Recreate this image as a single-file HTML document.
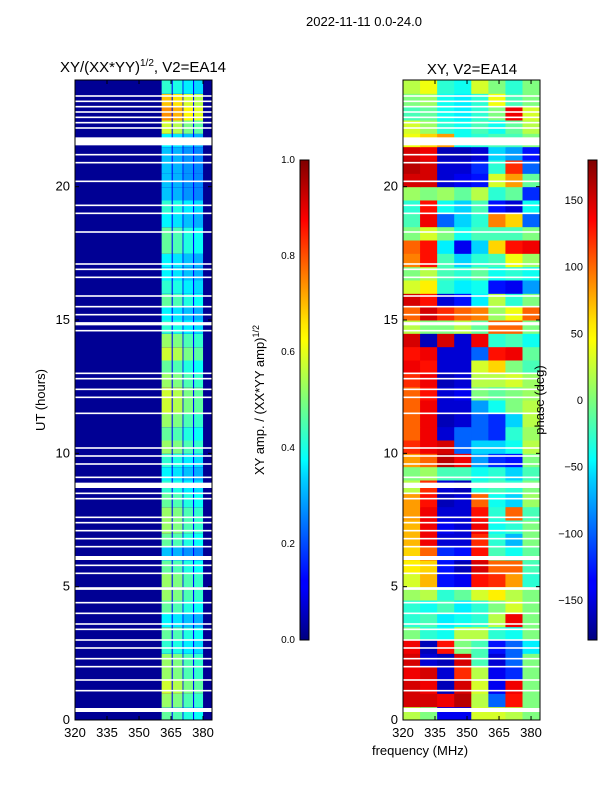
<!DOCTYPE html>
<html><head><meta charset="utf-8"><style>
body{margin:0;background:#fff;font-family:"Liberation Sans",sans-serif}
svg text{font-family:"Liberation Sans","DejaVu Sans",sans-serif;fill:#000}
</style></head><body>
<svg id="fig" width="600" height="800" xmlns="http://www.w3.org/2000/svg">
<defs>
<linearGradient id="jet" x1="0" y1="1" x2="0" y2="0">
<stop offset="0" stop-color="#00007f"/><stop offset="0.11" stop-color="#0000ff"/><stop offset="0.125" stop-color="#0000ff"/>
<stop offset="0.34" stop-color="#00d4ff"/><stop offset="0.375" stop-color="#0ff"/><stop offset="0.5" stop-color="#7dff7a"/>
<stop offset="0.625" stop-color="#ff0"/><stop offset="0.66" stop-color="#ffe600"/><stop offset="0.875" stop-color="#f00"/><stop offset="1" stop-color="#7f0000"/>
</linearGradient>
</defs>
<text x="364" y="26" font-size="13" text-anchor="middle">2022-11-11 0.0-24.0</text>
<text x="143" y="72" font-size="15" text-anchor="middle">XY/(XX*YY)<tspan font-size="10" dy="-6">1/2</tspan><tspan dy="6">, V2=EA14</tspan></text>
<text x="472" y="74" font-size="15" text-anchor="middle">XY, V2=EA14</text>
<g id="ampPanel"></g>
<g id="phasePanel"></g>
<g id="axes"></g>
<text transform="translate(45,400) rotate(-90)" font-size="13" text-anchor="middle">UT (hours)</text>
<text x="420" y="755" font-size="13" text-anchor="middle">frequency (MHz)</text>
<rect x="300" y="160" width="9" height="480" fill="url(#jet)" stroke="#000" stroke-width="1"/>
<rect x="588" y="160" width="9" height="480" fill="url(#jet)" stroke="#000" stroke-width="1"/>
<text transform="translate(264,400) rotate(-90)" font-size="13" text-anchor="middle">XY amp. / (XX*YY amp)<tspan font-size="9" dy="-5">1/2</tspan></text>
<text transform="translate(544,400) rotate(-90)" font-size="13" text-anchor="middle">phase (deg)</text>
</svg>
<script>
const ampBandRows=[0.45,0.5,0.55,0.5,0.5,0.4,0.45,0.35,0.45,0.5,0.5,0.45,0.3,0.45,0.5,0.5,0.45,0.4,0.35,0.4,0.5,0.45,0.5,0.55,0.55,0.5,0.45,0.55,0.5,0.4,0.35,0.45,0.4,0.35,0.35,0.45,0.45,0.35,0.4,0.3,0.3,0.3,0.3,0.35,0.55,0.7,0.65,0.4];
const ampStripeEdges=[360.6,365.3,365.8,370.4,370.8,375.3,375.8,380];
const ampStripeScale=[1.05,1.0,0.9,0.85];
const ampBase=0.02;
const phaseRows=[
[20,0,-140,-140,30,30,20,0],
[150,150,140,160,20,-100,130,0],
[150,140,-160,150,30,-140,140,0],
[140,150,-150,120,20,-140,-120,0],
[150,-150,-160,150,-20,-150,-100,0],
[140,-160,130,0,-20,-130,-100,-50],
[0,-30,-40,20,20,-30,-40,0],
[-30,-20,-50,-40,-30,20,140,0],
[-30,-40,-20,-50,-30,0,30,0],
[10,20,-30,-10,30,50,20,0],
[30,70,-130,-140,130,120,80,-30],
[50,60,-130,-160,150,100,100,-20],
[60,100,-120,-130,130,-20,-40,-10],
[70,140,-150,-150,120,-30,-70,0],
[70,140,-140,-150,140,-40,-30,0],
[80,140,-150,-150,130,-30,100,-20],
[80,130,-160,-150,100,-40,-60,10],
[20,120,-150,-160,-30,-20,-30,0],
[0,10,-20,-20,-40,-30,-60,-20],
[80,100,160,140,-80,-120,-130,0],
[120,140,150,-100,-60,-60,-40,20],
[100,140,-150,-100,-100,-120,-30,10],
[100,140,-160,-150,-100,-120,-60,20],
[100,140,-150,-150,-80,-40,0,20],
[100,130,-150,-140,0,-10,0,10],
[120,140,-160,-150,20,20,30,10],
[140,130,-150,-150,30,60,0,-20],
[130,140,-150,-150,-100,130,140,-10],
[150,-160,150,-150,140,-30,-20,-40],
[20,0,0,20,-10,100,100,0],
[100,150,120,100,90,10,40,100],
[150,130,-150,-130,-50,20,-30,0],
[30,50,-30,-50,-40,-130,-140,-80],
[0,20,-20,-30,-10,-40,-30,-40],
[90,130,-20,-60,-30,-20,40,10],
[100,130,-50,-140,-60,60,130,140],
[0,30,0,-40,-20,-20,-20,0],
[-20,140,-100,-60,-30,90,60,-100],
[-30,130,-40,-60,-20,-130,-150,-40],
[10,0,10,-10,20,-30,-10,-120],
[150,150,-150,-140,-130,30,80,-10],
[160,150,-150,-150,-120,-30,120,-100],
[150,140,-160,-160,-150,-60,-80,-130],
[40,60,80,-40,-30,-20,-20,0],
[30,10,-30,-40,-20,-40,-10,20],
[-20,-10,-40,-50,-30,0,140,30],
[0,10,-40,-50,-30,40,-20,0],
[20,40,-30,-40,30,0,-30,0]];
const phaseColEdges=[320,328,336,344,352,360,368,376,384];
const gapBands=[[21.55,21.85],[14.8,14.92],[8.7,8.9],[6.0,6.15],[4.88,4.98],[0.3,0.45]];
const gapLines=[23.4,23.2,23.0,22.8,22.6,22.4,22.2,21.2,20.9,20.2,19.3,19.0,18.3,17.1,16.9,16.6,15.9,15.5,15.2,14.6,13.0,12.8,12.4,12.1,11.5,10.2,9.9,9.6,9.1,8.5,8.3,7.6,7.4,7.1,6.8,6.5,5.8,5.5,4.4,4.0,3.6,3.4,3.0,2.7,2.3,2.0,1.5,1.1];
const xTicks=[320,335,350,365,380];
const yTicks=[0,5,10,15,20];
const ampCbTicks=[0.0,0.2,0.4,0.6,0.8,1.0];
const phaseCbTicks=[-150,-100,-50,0,50,100,150];

const NS='http://www.w3.org/2000/svg';
const FMIN=320,FMAX=384.2,HMAX=24;
const yS=h=>720-h*(640/HMAX);
const xA=f=>75+(f-FMIN)*(137/(FMAX-FMIN));
const xP=f=>403+(f-FMIN)*(137/(FMAX-FMIN));
function jet(v){v=Math.max(0,Math.min(1,v));
 const r=Math.min(4*v-1.5,-4*v+4.5),g=Math.min(4*v-0.5,-4*v+3.5),b=Math.min(4*v+0.5,-4*v+2.5);
 const c=x=>Math.round(255*Math.max(0,Math.min(1,x)));return `rgb(${c(r)},${c(g)},${c(b)})`;}
function mk(tag,at,parent){const e=document.createElementNS(NS,tag);for(const k in at)e.setAttribute(k,at[k]);parent.appendChild(e);return e;}
const rowH=HMAX/ampBandRows.length;
const amp=document.getElementById('ampPanel');
ampBandRows.forEach((a,i)=>{
 const y0=yS((i+1)*rowH),y1=yS(i*rowH);
 let r=mk('rect',{x:xA(FMIN),y:y0,width:xA(FMAX)-xA(FMIN),height:y1-y0+0.5,fill:jet(ampBase)},amp);
 
 r=mk('rect',{x:xA(ampStripeEdges[0]),y:y0,width:xA(ampStripeEdges[7])-xA(ampStripeEdges[0]),height:y1-y0+0.5,fill:jet(0.12)},amp);
 
 for(let s=0;s<4;s++){
  const c=mk('rect',{x:xA(ampStripeEdges[2*s]),y:y0,width:xA(ampStripeEdges[2*s+1])-xA(ampStripeEdges[2*s]),height:y1-y0+0.5,fill:jet(a*ampStripeScale[s])},amp);
  
 }
});
const ph=document.getElementById('phasePanel');
const prH=HMAX/phaseRows.length;
phaseRows.forEach((row,i)=>{
 const y0=yS((i+1)*prH),y1=yS(i*prH);
 row.forEach((p,j)=>{
  const c=mk('rect',{x:xP(phaseColEdges[j]),y:y0,width:xP(phaseColEdges[j+1])-xP(phaseColEdges[j])+0.5,height:y1-y0+0.5,fill:jet((p+180)/360)},ph);
  
 });
});
const ax=document.getElementById('axes');
[[xA,amp],[xP,ph]].forEach(([xf,g])=>{
 gapBands.forEach(b=>{const r=mk('rect',{x:xf(FMIN),y:yS(b[1]),width:137,height:yS(b[0])-yS(b[1]),fill:'#fff'},g);
  });
 gapLines.forEach(h=>{const r=mk('rect',{x:xf(FMIN),y:yS(h)-0.8,width:137,height:1.6,fill:'#fff'},g);
  });
 const fr=mk('rect',{x:xf(FMIN),y:80,width:137,height:640,fill:'none',stroke:'#000','stroke-width':1},ax);
 
 xTicks.forEach(t=>{const x=xf(t);
  mk('line',{x1:x,x2:x,y1:720,y2:716,stroke:'#000'},ax);mk('line',{x1:x,x2:x,y1:80,y2:84,stroke:'#000'},ax);
  const tx=mk('text',{x:x,y:737,'font-size':13,'text-anchor':'middle'},ax);tx.textContent=t;
  });
 yTicks.forEach(t=>{const y=yS(t);
  mk('line',{x1:xf(FMIN),x2:xf(FMIN)+4,y1:y,y2:y,stroke:'#000'},ax);mk('line',{x1:xf(FMIN)+137,x2:xf(FMIN)+133,y1:y,y2:y,stroke:'#000'},ax);
  const tx=mk('text',{x:xf(FMIN)-5,y:y+4,'font-size':13,'text-anchor':'end'},ax);tx.textContent=t;
  });
});
ampCbTicks.forEach(t=>{const y=640-t*480;
 const tx=mk('text',{x:295,y:y+3,'font-size':10,'text-anchor':'end'},ax);tx.textContent=t.toFixed(1);
 });
phaseCbTicks.forEach(t=>{const y=400-t*(480/360);
 const tx=mk('text',{x:583,y:y+4,'font-size':11,'text-anchor':'end'},ax);tx.textContent=t<0?'\u2212'+(-t):t;
 });
</script>
</body></html>
